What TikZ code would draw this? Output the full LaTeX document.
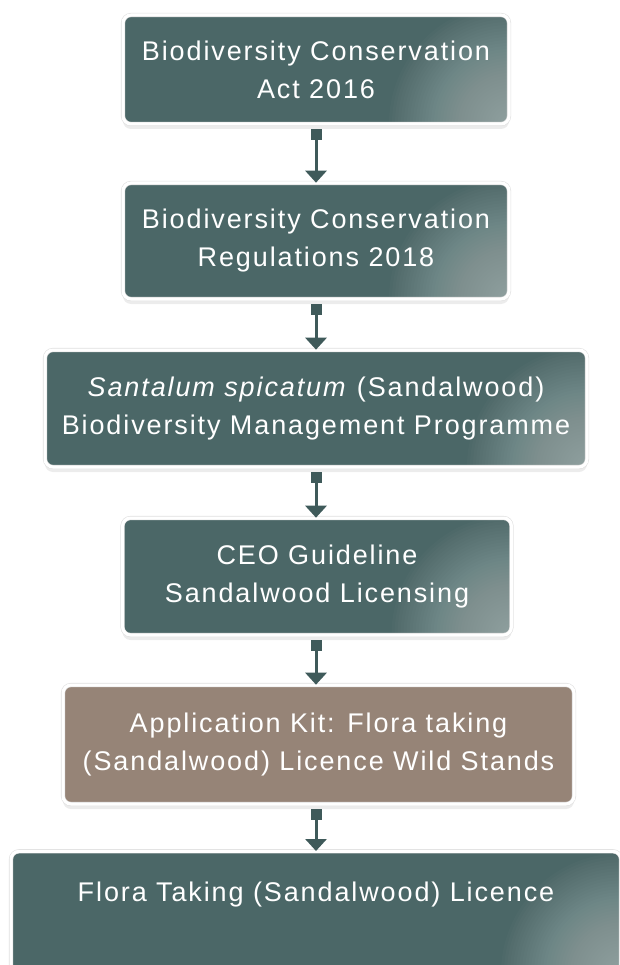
\documentclass[tikz,border=0pt]{standalone}
\usepackage{fontspec}
\setmainfont{Liberation Sans}[LetterSpace=7]
\usetikzlibrary{arrows.meta}
\usetikzlibrary{shadows}

\definecolor{boxteal}{HTML}{4B6767}
\definecolor{arrowteal}{HTML}{3F5A5A}
\definecolor{glosscol}{HTML}{D2DAD9}
\definecolor{kitbrown}{HTML}{968477}

\begin{document}
\begin{tikzpicture}[x=1pt, y=-1pt,
  box/.style={rounded corners=8pt, fill=boxteal, draw=black!12, double=white,
    double distance=3pt, line width=.6pt, text=white, align=center, inner sep=0pt,
    font=\fontsize{27}{38}\selectfont,
    drop shadow={shadow xshift=0pt, shadow yshift=-5pt, opacity=.15},
    path picture={\foreach \r in {3,6,...,120}
      \fill[glosscol, opacity=.025] (path picture bounding box.south east) circle (\r pt);}},
  kitbox/.style={box, fill=kitbrown, path picture={}},
  flow/.style={draw=arrowteal, line width=3pt, shorten <=5pt,
    {Square[length=11pt,width=11pt]}-{Triangle[length=12pt,width=21pt]}}]
\useasboundingbox (0,0) rectangle (620,965);
\clip (0,0) rectangle (620,965);

\node[box, minimum width=386, minimum height=109] (act) at (316,69.5) {Biodiversity Conservation\\Act 2016};
\node[box, minimum width=386, minimum height=116] (reg) at (316,241) {Biodiversity Conservation\\Regulations 2018};
\node[box, minimum width=542, minimum height=117] (bmp) at (316,408.5) {\textit{Santalum spicatum} (Sandalwood)\\Biodiversity Management Programme};
\node[box, minimum width=389, minimum height=117] (ceo) at (317,576.5) {CEO Guideline\\Sandalwood Licensing};
\node[kitbox, minimum width=511, minimum height=119] (kit) at (318.5,744.5) {Application Kit: Flora taking\\(Sandalwood) Licence Wild Stands};
\node[box, anchor=north, minimum width=610, text height=50pt, text depth=72pt] (lic) at (316,851) {Flora Taking (Sandalwood) Licence};

% connectors
\foreach \a/\b in {act/reg, reg/bmp, bmp/ceo, ceo/kit}
  \draw[flow] (\a.south -| act.south) -- (\b.north -| act.north);
\draw[flow] (kit.south -| act.south) -- (lic.north -| act.north);
\end{tikzpicture}
\end{document}
